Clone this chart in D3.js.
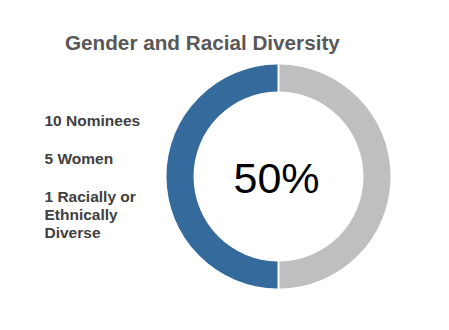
<!DOCTYPE html>
<html>
<head>
<meta charset="utf-8">
<script src="https://cdn.jsdelivr.net/npm/d3@7"></script>
<style>
  body { margin: 0; background: #fff; }
  text { font-family: Arial, "Liberation Sans", sans-serif; }
</style>
</head>
<body>
<script>
//Chart data.
var titleText = "Gender and Racial Diversity";
var sliceNames = ["Women", "Other"];
var sliceValues = [5, 5];
var sliceColors = ["#356a9c", "#bfbfbf"];
var centerLabel = "50%";
var noteLines = [["10 Nominees"], ["5 Women"], ["1 Racially or", "Ethnically", "Diverse"]];

//Size of the page.
var width = 449;
var height = 330;

var svg = d3.select("body").append("svg").attr("width", width).attr("height", height);

//Title.
svg.append("text")
   .attr("x", 65)
   .attr("y", 49.5)
   .attr("font-size", 20.7)
   .attr("font-weight", "bold")
   .attr("fill", "#585858")
   .text(titleText);

//Donut centre and radii.
var cx = 278.5, cy = 176.5;
var outerR = 112, innerR = 85;

var pie = d3.pie().sort(null).value(function(d) { return d; })
            .startAngle(Math.PI).endAngle(3 * Math.PI).padAngle(0.014);
var arc = d3.arc().innerRadius(innerR).outerRadius(outerR);

var donut = svg.append("g").attr("transform", "translate(" + cx + "," + cy + ")");

donut.selectAll("path")
     .data(pie(sliceValues))
     .enter().append("path")
     .attr("d", arc)
     .attr("fill", function(d, i) { return sliceColors[i]; })
     .attr("class", function(d, i) { return "slice " + sliceNames[i]; });

//Percent label in the middle.
donut.append("text")
     .attr("x", -2)
     .attr("y", 16)
     .attr("text-anchor", "middle")
     .attr("font-size", 43)
     .attr("fill", "#000")
     .text(centerLabel);

//Notes on the left.
var noteY = [126, 163.5, 201.5];
var lineGap = 18.4;
noteLines.forEach(function(lines, i) {
  var t = svg.append("text")
             .attr("x", 44.5)
             .attr("y", noteY[i])
             .attr("font-size", 15.5)
             .attr("font-weight", "bold")
             .attr("fill", "#404040");
  lines.forEach(function(line, j) {
    t.append("tspan").attr("x", 44.5).attr("y", noteY[i] + j * lineGap).text(line);
  });
});
</script>
</body>
</html>
